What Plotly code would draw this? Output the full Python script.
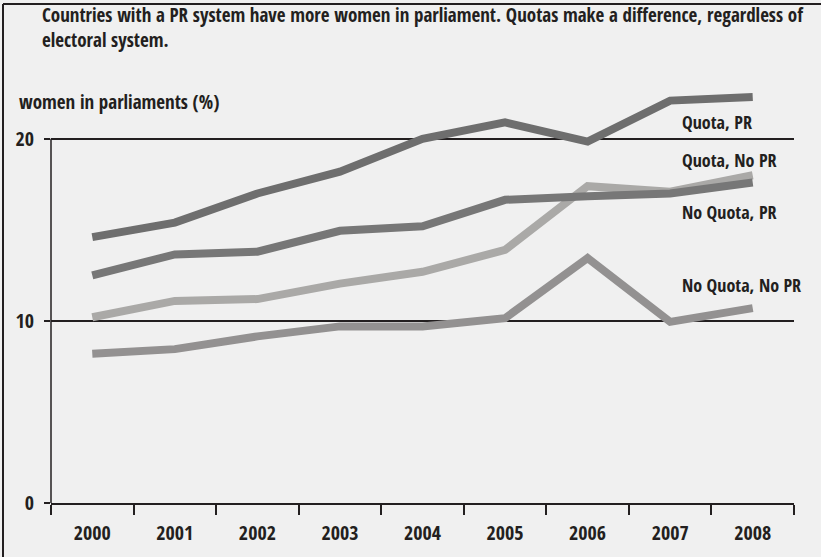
import plotly.graph_objects as go

years = ["2000", "2001", "2002", "2003", "2004", "2005", "2006", "2007", "2008"]
quota_pr = [14.6, 15.4, 17.0, 18.2, 20.0, 20.9, 19.85, 22.1, 22.3]
noquota_pr = [12.5, 13.65, 13.8, 14.95, 15.2, 16.65, 16.85, 17.0, 17.6]
quota_nopr = [10.2, 11.1, 11.2, 12.05, 12.7, 13.9, 17.4, 17.1, 18.0]
noquota_nopr = [8.2, 8.45, 9.15, 9.7, 9.7, 10.15, 13.45, 9.95, 10.7]

series_names = ["No Quota, No PR", "Quota, No PR", "No Quota, PR", "Quota, PR"]
series_values = [noquota_nopr, quota_nopr, noquota_pr, quota_pr]
series_colors = ["#939191", "#aaa9a7", "#777777", "#6e6e6e"]

y_ticks = [0, 10, 20]

title_lines = ["Countries with a PR system have more women in parliament. Quotas make a difference, regardless of",
               "electoral system."]
y_label = "women in parliaments (%)"

FONT = "Open Sans Condensed, Roboto Condensed, sans-serif"
TXT = "#231f20"
BG = "#f0f0f0"

fig = go.Figure()
for name, vals, col in zip(series_names, series_values, series_colors):
    fig.add_trace(go.Scatter(x=years, y=vals, mode="lines", name=name,
                             line=dict(color=col, width=8), showlegend=False))

# series labels
label_pos = {"Quota, PR": 20.9, "Quota, No PR": 18.85, "No Quota, PR": 16.0, "No Quota, No PR": 12.0}
for name in series_names:
    fig.add_annotation(x=0.8466, xref="paper", y=label_pos[name], yref="y",
                       text="<b>" + name + "</b>", showarrow=False, xanchor="left",
                       yanchor="middle", font=dict(family=FONT, size=18, color=TXT))

# title (two lines)
fig.add_annotation(x=(40 - 51) / 743, xref="paper", y=1.0881, yref="paper",
                   text="<br>".join("<b>" + t + "</b>" for t in title_lines),
                   showarrow=False, xanchor="left", yanchor="middle", align="left",
                   font=dict(family=FONT, size=19, color=TXT))

# y axis label
fig.add_annotation(x=(17 - 51) / 743, xref="paper", y=0.9176, yref="paper", text="<b>" + y_label + "</b>",
                   showarrow=False, xanchor="left", yanchor="middle",
                   font=dict(family=FONT, size=19, color=TXT))

# y axis line (0..20)
fig.add_shape(type="line", xref="paper", yref="y", x0=0, x1=0, y0=0, y1=20,
              line=dict(color=TXT, width=1.5))
# frame (left and top)
fig.add_shape(type="line", xref="paper", yref="paper", x0=-0.0646, x1=-0.0646, y0=-0.13, y1=1.1419,
              line=dict(color=TXT, width=2))
fig.add_shape(type="line", xref="paper", yref="paper", x0=-0.0646, x1=1.04, y0=1.1419, y1=1.1419,
              line=dict(color=TXT, width=2))

fig.update_layout(
    width=821, height=557,
    margin=dict(l=51, r=27, t=66, b=54),
    paper_bgcolor=BG, plot_bgcolor=BG,
    font=dict(family=FONT, color=TXT),
)
fig.update_xaxes(type="category", range=[-0.5, 8.5], tickson="boundaries", ticks="outside",
                 ticklen=10, tickwidth=1.5, tickcolor=TXT, showline=True, linecolor=TXT, linewidth=1.5,
                 showgrid=False, zeroline=False,
                 tickfont=dict(family=FONT, size=20, color=TXT), ticklabelstandoff=11,
                 tickprefix="<b>", ticksuffix="</b>")
fig.update_yaxes(range=[0, 24], tickvals=y_ticks, ticktext=["<b>%d</b>" % v for v in y_ticks],
                 ticks="outside", ticklen=6, tickwidth=1.5, tickcolor=TXT,
                 showgrid=True, gridcolor=TXT, gridwidth=1.5, zeroline=False, showline=False,
                 tickfont=dict(family=FONT, size=20, color=TXT), ticklabelstandoff=6)

fig.write_html("out.html", config={"displayModeBar": False},
               post_script="document.body.style.margin='0';")
